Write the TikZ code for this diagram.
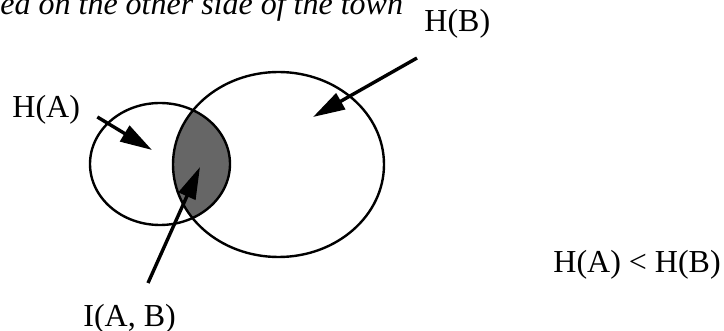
\documentclass[tikz,border=0pt]{standalone}
\usepackage{fontspec}
\setmainfont{Liberation Serif}
\usetikzlibrary{arrows.meta,shapes.geometric}

\begin{document}
\begin{tikzpicture}[
  x=0.5pt, y=-0.5pt,
  font=\fontsize{16}{19}\selectfont,
  lbl/.style={inner sep=0pt, anchor=base west},
  set/.style={draw, ellipse, line width=1.2pt, inner sep=0pt},
  arr/.style={-{Triangle[length=16pt, width=9pt]}, line width=1.7pt},
  overlap/.style={fill=black!60}
]
\useasboundingbox (0,0) rectangle (724,331);
\node[lbl, font=\fontsize{16}{19}\selectfont\itshape] (note) at (0,15)
  {ed on the other side of the town};
% shaded overlap of the two sets
\begin{scope}
  \clip (160,164) ellipse [x radius=70, y radius=61];
  \fill[overlap] (278.5,164.5) ellipse [x radius=105.5, y radius=92.5];
\end{scope}
\node[set, minimum width=70pt, minimum height=61pt] (A) at (160,164) {};
\node[set, minimum width=105.5pt, minimum height=92.5pt] (B) at (278.5,164.5) {};
\node[lbl] (HA) at (12,118) {H(A)};
\node[lbl] (HB) at (424,32) {H(B)};
\node[lbl] (IAB) at (83,327) {I(A, B)};
\node[lbl] (cmp) at (553,273) {H(A) < H(B)};
\coordinate (pA) at (152,150);
\coordinate (pB) at (313,117);
\coordinate (pI) at (200,167);
\draw[arr] ([shift={(17,-1)}]HA.base east) -- (pA);
\draw[arr] ([shift={(-7,26)}]HB.base west) -- (pB);
\draw[arr] ([shift={(65,-44)}]IAB.base west) -- (pI);
\end{tikzpicture}
\end{document}
